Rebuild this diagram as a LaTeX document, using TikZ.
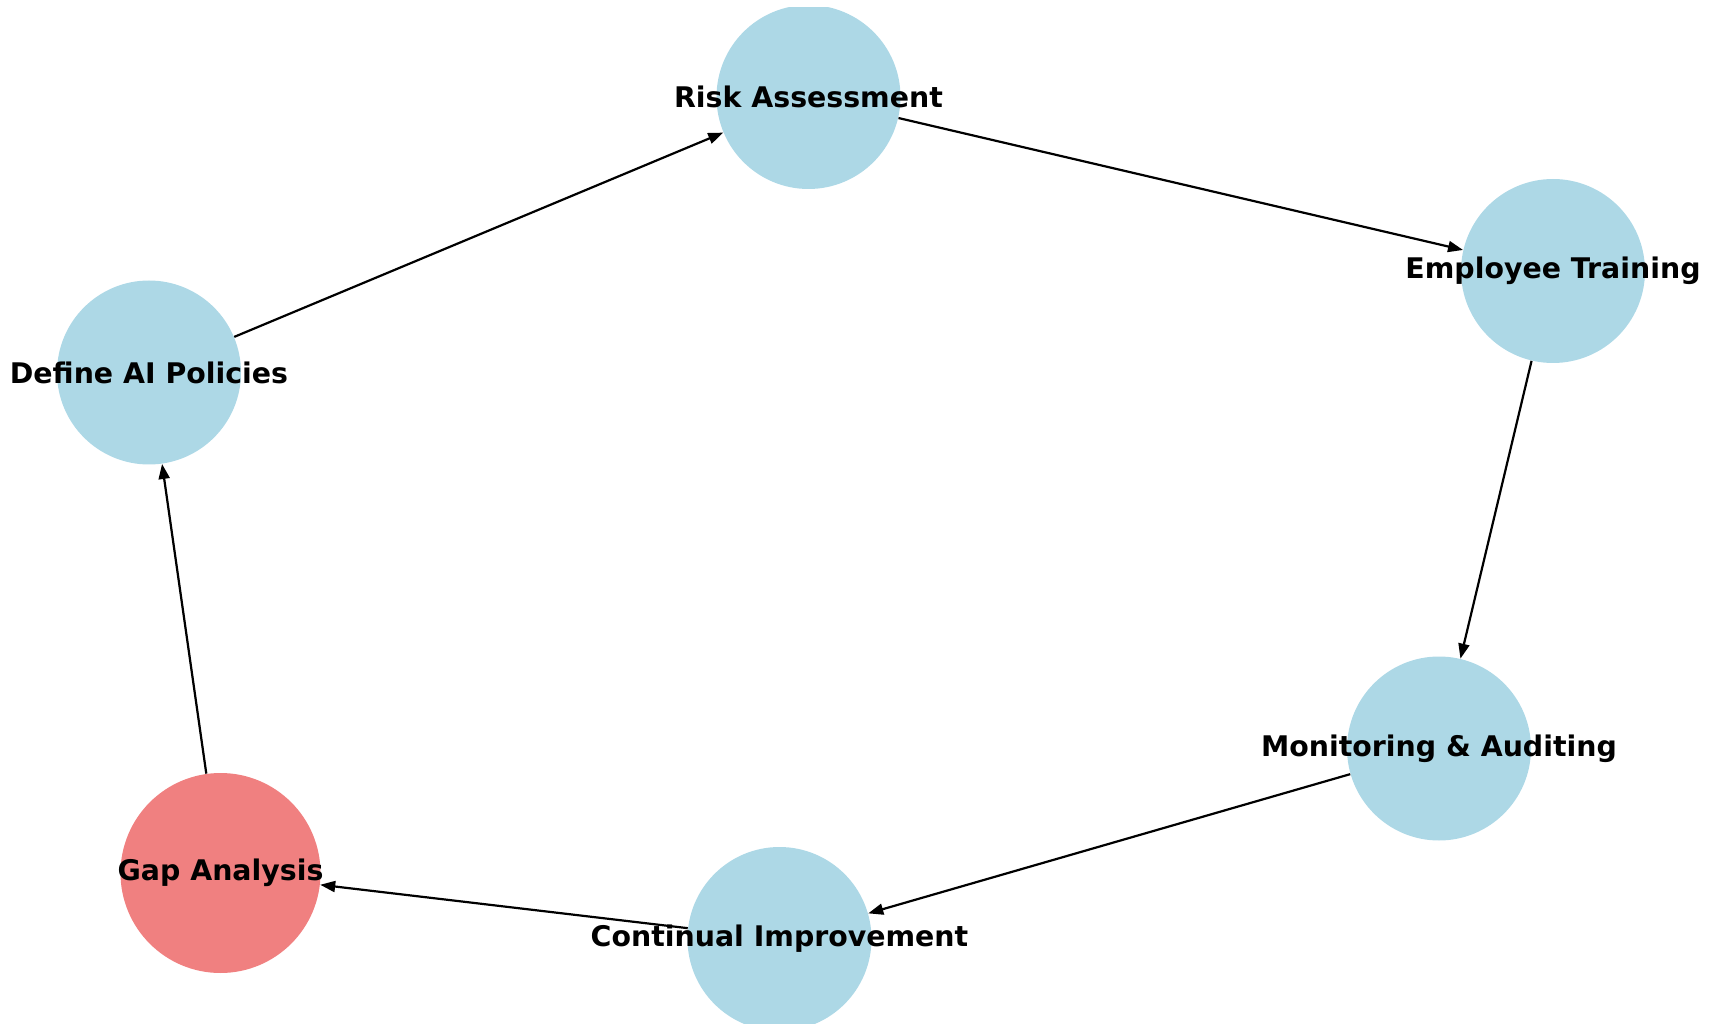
\documentclass[tikz,border=0pt]{standalone}
\usepackage{fontspec}
\setmainfont{DejaVu Sans}
\usetikzlibrary{arrows.meta}
\definecolor{lblue}{HTML}{ADD8E6}
\definecolor{lcoral}{HTML}{F08080}
\tikzset{
  bluenode/.style={circle, fill=lblue, draw=none, minimum size=92pt, inner sep=0pt},
  rednode/.style={circle, fill=lcoral, draw=none, minimum size=100pt, inner sep=0pt},
  lbl/.style={font=\fontsize{14.2pt}{16pt}\selectfont\bfseries, text=black, inner sep=0pt},
  edge/.style={draw=black, line width=1.1pt, -{Triangle[length=7.5pt,width=5.5pt]}}
}
\begin{document}
\begin{tikzpicture}[x=0.5pt, y=-0.5pt]
\useasboundingbox (0,0) rectangle (1719,1026);
\begin{scope}
\clip (0,8) rectangle (1719,1023);
\node[bluenode] (risk) at (808.5,97) {};
\node[bluenode] (emp) at (1553,271) {};
\node[bluenode] (def) at (149,372.5) {};
\node[bluenode] (mon) at (1439,748.5) {};
\node[bluenode] (cont) at (779.5,939) {};
\node[rednode] (gap) at (220.5,873) {};
\end{scope}
\draw[edge] (def) -- (risk);
\draw[edge] (risk) -- (emp);
\draw[edge] (emp) -- (mon);
\draw[edge] (mon) -- (cont);
\draw[edge] (cont) -- (gap);
\draw[edge] (gap) -- (def);
\node[lbl] (trisk) at (risk.center) {Risk Assessment};
\node[lbl] (temp) at (emp.center) {Employee Training};
\node[lbl] (tdef) at (def.center) {Define AI Policies};
\node[lbl] (tmon) at (mon.center) {Monitoring \& Auditing};
\node[lbl] (tcont) at (cont.center) {Continual Improvement};
\node[lbl] (tgap) at (gap.center) {Gap Analysis};
\end{tikzpicture}
\end{document}
